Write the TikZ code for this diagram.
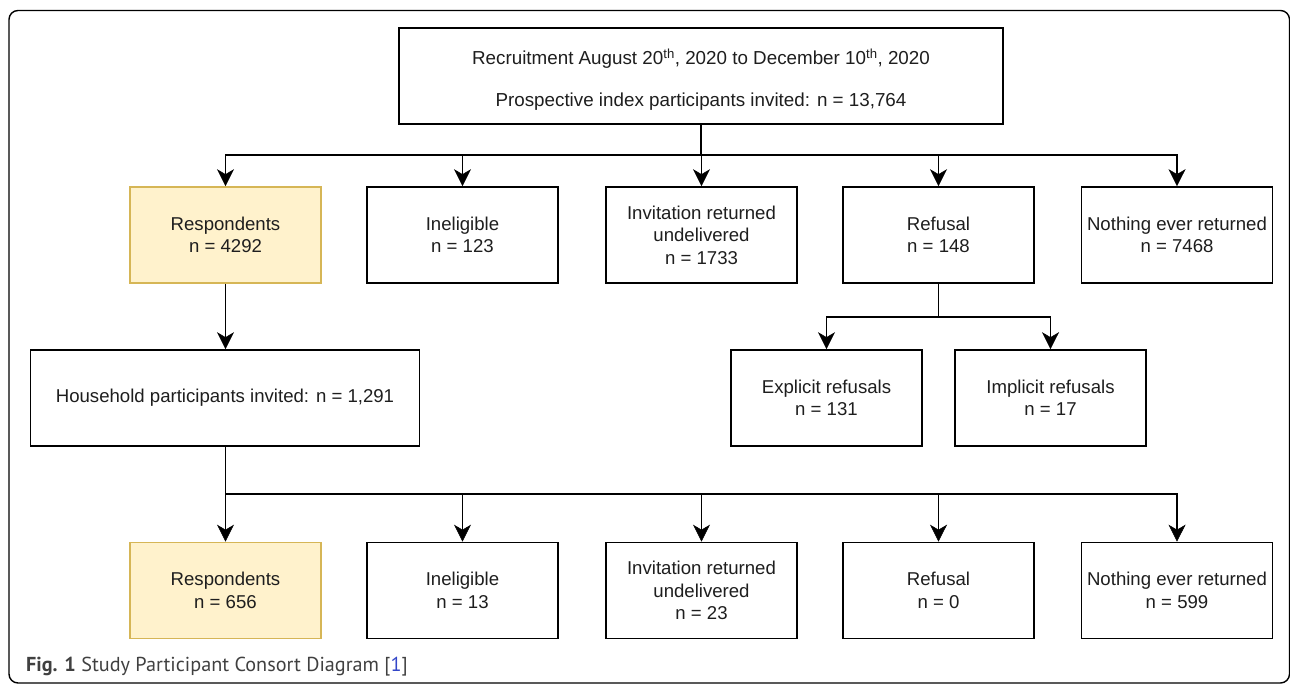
\documentclass[tikz,border=0pt]{standalone}
\usepackage{fontspec}
\setmainfont{Liberation Sans}
\newfontfamily\capfont{PT Sans}
\usetikzlibrary{arrows.meta}
\definecolor{txt}{HTML}{1E1E1E}
\definecolor{yfill}{HTML}{FFF2CC}
\definecolor{ydraw}{HTML}{D6B656}
\definecolor{capgray}{HTML}{404040}
\definecolor{capblue}{HTML}{3346C8}
\tikzset{
  box/.style={draw=black, line width=1.6pt, fill=white, minimum width=191pt, minimum height=96pt,
    inner sep=0pt, align=center, text=txt, font=\fontsize{18.6}{22.4}\selectfont},
  ybox/.style={box, draw=ydraw, fill=yfill},
  lbl/.style={inner sep=0pt, text=txt, font=\fontsize{18.8}{22.4}\selectfont},
  conn/.style={line width=1.6pt, draw=black},
  tipstyle/.tip={Stealth[length=17pt,width=17pt,inset=5pt,line width=0.5pt]},
  arr/.style={conn, -tipstyle},
  frame/.style={line width=1.4pt, rounded corners=9pt},
}
\newcommand{\thsup}{\textsuperscript{th}}
\begin{document}
\begin{tikzpicture}[x=1pt,y=-1pt]
\useasboundingbox (0,0) rectangle (1290,685);
\draw[frame] (9,10.5) rectangle (1289.5,683);

% top box
\node[box, minimum width=604pt, minimum height=96pt] (top) at (701,76) {};
\node[lbl] (t1) at (701,59) {Recruitment August 20\thsup, 2020 to December 10\thsup, 2020};
\node[lbl] (t2) at (701,102) {Prospective index participants invited: n = 13,764};

% row 1
\node[ybox] (r1a) at (225.5,235) {Respondents\\n = 4292};
\node[box]  (r1b) at (462.5,235) {Ineligible\\n = 123};
\node[box]  (r1c) at (701.5,235) {Invitation returned\\undelivered\\n = 1733};
\node[box]  (r1d) at (938.5,235) {Refusal\\n = 148};
\node[box]  (r1e) at (1177,235) {Nothing ever returned\\n = 7468};

% household
\node[box, minimum width=389pt] (hh) at (225,398) {Household participants invited: n = 1,291};

% refusal split
\node[box] (ex) at (826.5,398) {Explicit refusals\\n = 131};
\node[box] (im) at (1050.5,398) {Implicit refusals\\n = 17};

% row 3
\node[ybox] (r3a) at (225.5,590.5) {Respondents\\n = 656};
\node[box]  (r3b) at (462.5,590.5) {Ineligible\\n = 13};
\node[box]  (r3c) at (701.5,590.5) {Invitation returned\\undelivered\\n = 23};
\node[box]  (r3d) at (938.5,590.5) {Refusal\\n = 0};
\node[box]  (r3e) at (1177,590.5) {Nothing ever returned\\n = 599};

% connectors top
\coordinate (j1) at (701,155);
\draw[conn] (top.south) -- (j1);
\draw[arr] (j1) -| (r1a.north);
\draw[arr] (j1) -| (r1b.north);
\draw[arr] (j1) -- (j1 -| r1c.north) -- (r1c.north);
\draw[arr] (j1) -| (r1d.north);
\draw[arr] (j1) -| (r1e.north);

% respondents -> household
\draw[arr] (r1a.south) -- (r1a.south |- hh.north);

% refusal split
\coordinate (j2) at (938.5,317);
\draw[conn] (r1d.south) -- (j2);
\draw[arr] (j2) -| (ex.north);
\draw[arr] (j2) -| (im.north);

% household -> row 3
\coordinate (j3) at (225.5,494);
\draw[conn] (j3 |- hh.south) -- (j3);
\draw[arr] (j3) -- (r3a.north);
\draw[arr] (j3) -| (r3b.north);
\draw[arr] (j3) -| (r3c.north);
\draw[arr] (j3) -| (r3d.north);
\draw[arr] (j3) -| (r3e.north);

% caption
\node[anchor=west, inner sep=0pt, text=capgray, font=\capfont\fontsize{20.2}{24}\selectfont] (cap) at (26,667)
  {\textbf{Fig. 1} Study Participant Consort Diagram [\textcolor{capblue}{1}]};
\end{tikzpicture}
\end{document}
